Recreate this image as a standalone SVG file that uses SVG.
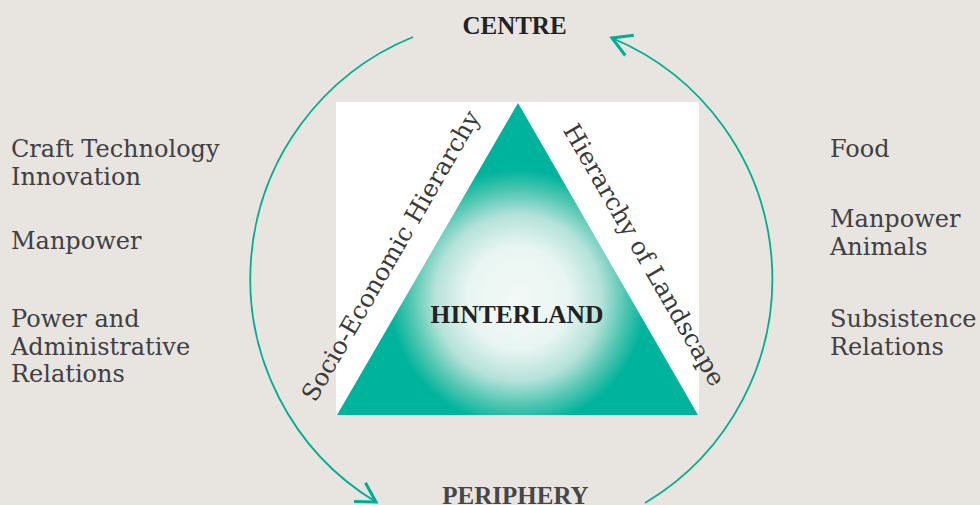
<svg xmlns="http://www.w3.org/2000/svg" width="980" height="505" viewBox="0 0 980 505">
  <defs>
    <radialGradient id="tri-grad" gradientUnits="userSpaceOnUse" cx="518" cy="298" r="128">
      <stop offset="0" stop-color="#f3f9f7"/>
      <stop offset="0.4" stop-color="#e9f5f2"/>
      <stop offset="0.65" stop-color="#b4e2d9"/>
      <stop offset="0.84" stop-color="#4fc6b2"/>
      <stop offset="1" stop-color="#00b39c"/>
    </radialGradient>
    <marker id="chev" markerUnits="userSpaceOnUse" viewBox="-24 -14 28 28" refX="0" refY="0" markerWidth="28" markerHeight="28" orient="auto">
      <path d="M -19,-11 L 0,0 L -19,11" fill="none" stroke="#00ad94" stroke-width="3" stroke-linecap="butt" stroke-linejoin="miter"/>
    </marker>
    <style>
      .flow { fill: none; stroke: #00ad94; stroke-width: 1.8; }
      .label { font-family: "DejaVu Serif", "Liberation Serif", serif; font-size: 24px; fill: #3e4043; }
      .title { font-family: "Liberation Serif", "DejaVu Serif", serif; font-weight: bold; fill: #222222; }
      .side { font-family: "DejaVu Serif", "Liberation Serif", serif; font-size: 24.5px; fill: #3a3a3a; }
    </style>
  </defs>

  <rect x="0" y="0" width="980" height="505" fill="#e8e4df"/>

  <g id="connectors">
    <path class="flow" d="M 413,37 A 261,261 0 0 0 376,502" marker-end="url(#chev)"/>
    <path class="flow" d="M 645,503 A 261,261 0 0 0 612,38" marker-end="url(#chev)"/>
  </g>

  <g id="hinterland">
    <rect x="336" y="102" width="363" height="313" fill="#ffffff"/>
    <polygon points="518,103 337,415 698,415" fill="url(#tri-grad)"/>
    <text class="title" x="517" y="323" font-size="25.5" text-anchor="middle">HINTERLAND</text>
    <text class="side" transform="translate(398,260) rotate(-60)" x="0" y="0" text-anchor="middle">Socio-Economic Hierarchy</text>
    <text class="side" transform="translate(637,259) rotate(60)" x="0" y="0" text-anchor="middle">Hierarchy of Landscape</text>
  </g>

  <g id="centre">
    <text class="title" x="514.5" y="34" font-size="25" text-anchor="middle">CENTRE</text>
  </g>

  <g id="periphery">
    <text x="515.5" y="504" font-family="Liberation Serif, DejaVu Serif, serif" font-size="25" font-weight="bold" fill="#464646" text-anchor="middle">PERIPHERY</text>
  </g>

  <g id="left-labels">
    <text class="label" x="11" y="157">Craft Technology</text>
    <text class="label" x="11" y="185">Innovation</text>
    <text class="label" x="11" y="249">Manpower</text>
    <text class="label" x="11" y="327">Power and</text>
    <text class="label" x="11" y="355">Administrative</text>
    <text class="label" x="11" y="382">Relations</text>
  </g>

  <g id="right-labels">
    <text class="label" x="830" y="157">Food</text>
    <text class="label" x="830" y="227">Manpower</text>
    <text class="label" x="830" y="255">Animals</text>
    <text class="label" x="830" y="327">Subsistence</text>
    <text class="label" x="830" y="355">Relations</text>
  </g>
</svg>
